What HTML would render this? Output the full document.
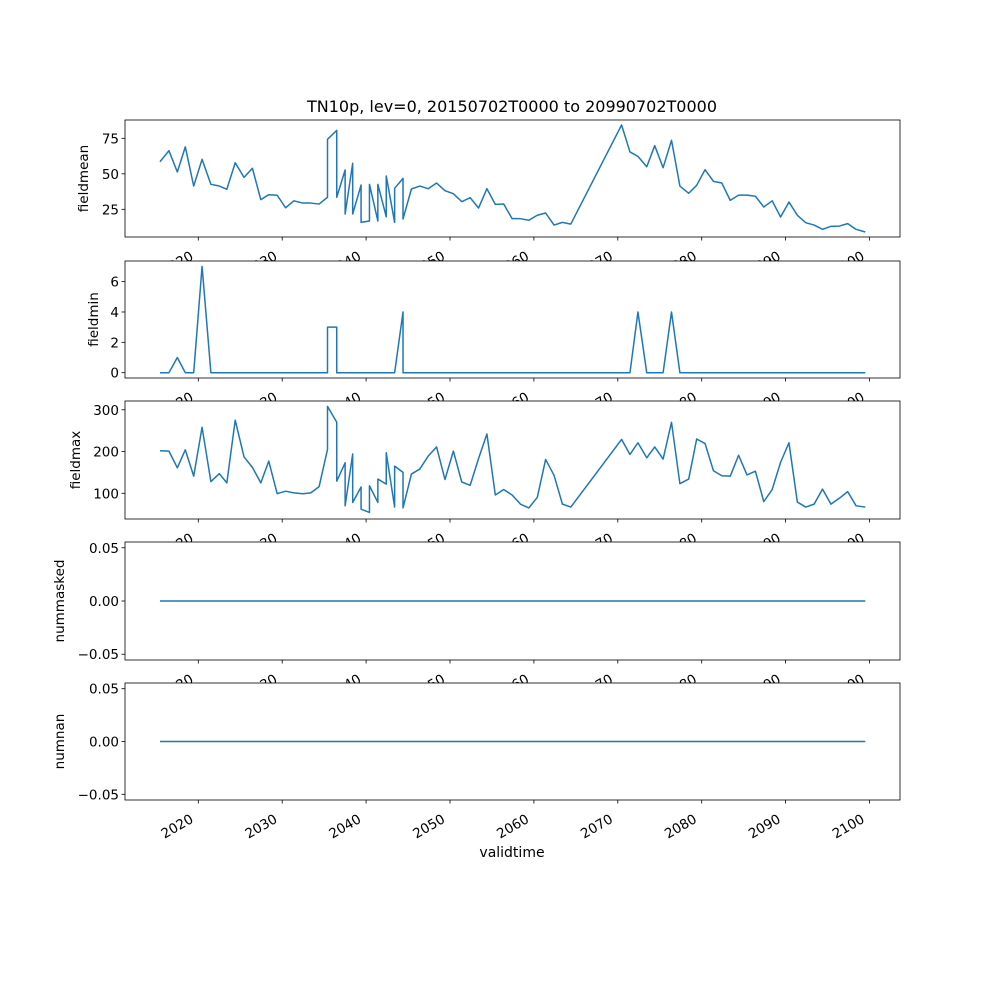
<!DOCTYPE html>
<html><head><meta charset="utf-8"><style>
html,body{margin:0;padding:0;background:#fff;}
svg{display:block;font-family:"DejaVu Sans","Liberation Sans",sans-serif;}
</style></head><body>
<svg id="fig" width="1000" height="1000" viewBox="0 0 1000 1000" xmlns="http://www.w3.org/2000/svg">
<rect width="1000" height="1000" fill="#fff"/>
<text x="512" y="112" font-size="16" text-anchor="middle">TN10p, lev=0, 20150702T0000 to 20990702T0000</text>
<g id="panels"></g>
<text x="512" y="857" font-size="14" text-anchor="middle">validtime</text>
</svg>
<script>
const times=[2015.43,2016.5,2017.5,2018.45,2019.45,2020.45,2021.5,2022.5,2023.4,2024.4,2025.45,2026.45,2027.45,2028.4,2029.4,2030.4,2031.4,2032.45,2033.4,2034.4,
2035.4,2035.4,2036.5,2036.5,2037.5,2037.5,2038.4,2038.4,2039.4,2039.4,2040.4,2040.4,2041.4,2041.4,2042.4,2042.4,2043.4,2043.4,2044.4,2044.4,
2045.4,2046.4,2047.4,2048.4,2049.4,2050.4,2051.4,2052.4,2053.4,2054.4,2055.4,2056.4,2057.4,2058.4,2059.4,2060.4,2061.4,2062.4,2063.4,2064.4,
2070.45,2071.45,2072.4,2073.45,2074.4,2075.4,2076.4,2077.4,2078.45,2079.4,2080.4,2081.4,2082.4,2083.4,2084.4,2085.4,2086.4,2087.4,2088.4,2089.4,2090.4,2091.4,2092.4,2093.4,2094.4,2095.4,2096.4,2097.4,2098.4,2099.5];
const fieldmean=[58.5,66.3,51.3,69,41.4,60.2,42.6,41.4,39.1,57.8,47.5,53.9,31.8,35.3,34.9,26.1,31,29.4,29.4,28.7,
33.5,74.3,80.6,33.5,52.7,21.7,57.4,21.7,42.1,15.8,16.8,42.6,16.8,42.6,19.8,48.5,15.8,39.8,46.8,18.2,
39.3,41.4,39.5,43.5,38.1,36,30.4,33.2,25.9,39.5,28.5,28.7,18.4,18.4,17.3,20.8,22.4,13.9,15.8,14.6,
84.4,65.4,62.3,55,69.8,54.3,73.6,41.4,36.3,41.9,52.9,44.7,43.5,31.3,35,35,34.2,26.6,31,19.6,30.1,20.8,15.6,13.9,10.9,13,13.2,14.9,10.9,9];
const fieldmin=[0,0,1,0,0,7,0,0,0,0,0,0,0,0,0,0,0,0,0,0,
0,3,3,0,0,0,0,0,0,0,0,0,0,0,0,0,0,0,4,0,
0,0,0,0,0,0,0,0,0,0,0,0,0,0,0,0,0,0,0,0,
0,0,4,0,0,0,4,0,0,0,0,0,0,0,0,0,0,0,0,0,0,0,0,0,0,0,0,0,0,0];
const fieldmax=[202,201,161,204,141,258,128,147,125,275,187,162,125,177,99,105,101,99,101,116,
205,308,270,129,173,70,194,78,115,62,54,118,78,134,122,197,67,165,150,65,
146,158,189,211,133,201,127,119,183,242,96,109,96,74,65,90,181,143,74,67,
229,193,221,185,211,182,270,123,134,230,219,154,142,141,191,144,153,80,109,174,221,79,67,74,110,74,88,104,70,67];
const nummasked=times.map(()=>0);
const numnan=times.map(()=>0);
const xTicks=[2020,2030,2040,2050,2060,2070,2080,2090,2100];
const meanTicks=[25,50,75];
const minTicks=[0,2,4,6];
const maxTicks=[100,200,300];
const zeroTicks=[-0.05,0,0.05];

const NS="http://www.w3.org/2000/svg";
const L=125,R=900;
function xs(t){return 198.3+(t-2020)*8.39;}
function mk(tag,attrs,parent){const e=document.createElementNS(NS,tag);for(const k in attrs)e.setAttribute(k,attrs[k]);parent.appendChild(e);return e;}
const panels=[
 {name:'fieldmean',data:fieldmean,top:120,bot:237,lo:5.5,hi:87.9,ticks:meanTicks,fmt:v=>String(v),lx:88},
 {name:'fieldmin',data:fieldmin,top:261,bot:378,lo:-0.35,hi:7.36,ticks:minTicks,fmt:v=>String(v),lx:98},
 {name:'fieldmax',data:fieldmax,top:401,bot:519,lo:38.4,hi:321,ticks:maxTicks,fmt:v=>String(v),lx:80},
 {name:'nummasked',data:nummasked,top:542,bot:660,lo:-0.0554,hi:0.0554,ticks:zeroTicks,fmt:v=>(v<0?'\u22120.05':v>0?'0.05':'0.00'),lx:64},
 {name:'numnan',data:numnan,top:683,bot:800,lo:-0.0554,hi:0.0554,ticks:zeroTicks,fmt:v=>(v<0?'\u22120.05':v>0?'0.05':'0.00'),lx:64}
];
const root=document.getElementById('panels');
panels.forEach(p=>{
 const g=mk('g',{},root);
 
 
 const ys=v=>p.bot-(v-p.lo)/(p.hi-p.lo)*(p.bot-p.top);
 const bg=mk('rect',{x:L,y:p.top,width:R-L,height:p.bot-p.top,fill:'#fff'},g);
 
 
 const d=times.map((t,i)=>(i?'L':'M')+xs(t).toFixed(2)+','+ys(p.data[i]).toFixed(2)).join(' ');
 const line=mk('path',{d:d,fill:'none',stroke:'#1f77b4','stroke-width':1.5,'stroke-linejoin':'round'},g);
 
 
 const fr=mk('rect',{x:L,y:p.top,width:R-L,height:p.bot-p.top,fill:'none',stroke:'#000','stroke-width':0.8},g);
 
 
 p.ticks.forEach(v=>{
  const y=ys(v);
  mk('line',{x1:L-3.5,x2:L,y1:y,y2:y,stroke:'#000','stroke-width':0.8},g);
  const tx=mk('text',{x:L-6,y:y+5,'font-size':13.5,'text-anchor':'end'},g);
  tx.textContent=p.fmt(v);
  
  
 });
 const yl=mk('text',{transform:`translate(${p.lx},${(p.top+p.bot)/2}) rotate(-90)`,'font-size':13.5,'text-anchor':'middle'},g);
 yl.textContent=p.name;
 
 
 xTicks.forEach(t=>{
  const x=xs(t);
  mk('line',{x1:x,x2:x,y1:p.bot,y2:p.bot+3.5,stroke:'#000','stroke-width':0.8},g);
  const tx=mk('text',{transform:`translate(${x-9},${p.bot+13}) rotate(-30)`,x:0,y:10,'font-size':13.5,'text-anchor':'end'},g);
  tx.textContent=String(t);
  
  
 });
});
</script>
</body></html>
